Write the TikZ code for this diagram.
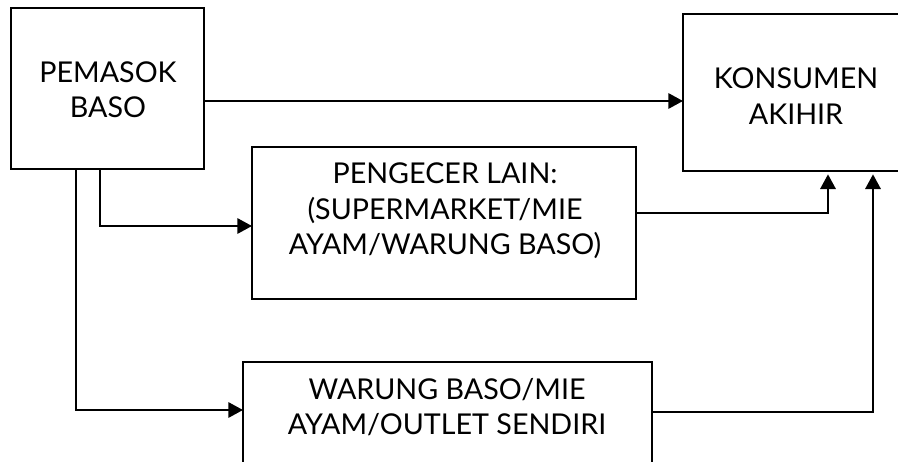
\documentclass[tikz,border=0pt]{standalone}
\usepackage{fontspec}
\setmainfont{Lato}
\usetikzlibrary{arrows.meta}
\begin{document}
\begin{tikzpicture}[x=0.75pt,y=-0.75pt,
  box/.style={draw, line width=1.6pt, rectangle, inner sep=0pt, outer sep=0pt, anchor=north west},
  lbl/.style={font=\fontsize{21.5}{26.5}\selectfont, align=center, inner sep=0pt},
  flow/.style={line width=1.6pt, -{Triangle[length=11pt,width=11.5pt]}}]
\useasboundingbox (0,0) rectangle (898,461);
\clip (0,0) rectangle (898,461);

% boxes
\node[box, minimum width=144.75pt, minimum height=120.75pt] (sup) at (11,8) {};
\node[box, minimum width=170.25pt, minimum height=117.75pt] (con) at (683,14) {};
\node[box, minimum width=288pt, minimum height=114pt] (ret) at (252,147) {};
\node[box, minimum width=306.75pt, minimum height=88.5pt] (out) at (243,362) {};

% labels
\node[lbl] (supT) at (108,90) {PEMASOK\\BASO};
\node[lbl] (conT) at (796,96) {KONSUMEN\\AKIHIR};
\node[lbl] (retT) at (445,211) {PENGECER LAIN:\\(SUPERMARKET/MIE\\AYAM/WARUNG BASO)};
\node[lbl] (outT) at (447,407) {WARUNG BASO/MIE\\AYAM/OUTLET SENDIRI};

% flows
\draw[flow] (sup.east |- 0,101) -- (con.west |- 0,101);
\draw[flow] (sup.south -| 100,0) |- (ret.west |- 0,226);
\draw[flow] (sup.south -| 76,0) |- (out.west |- 0,410);
\draw[flow, shorten >=2.5pt] (ret.east |- 0,213) -| (con.south -| 828,0);
\draw[flow, shorten >=2.5pt] (out.east |- 0,412) -| (con.south -| 873,0);
\end{tikzpicture}
\end{document}
